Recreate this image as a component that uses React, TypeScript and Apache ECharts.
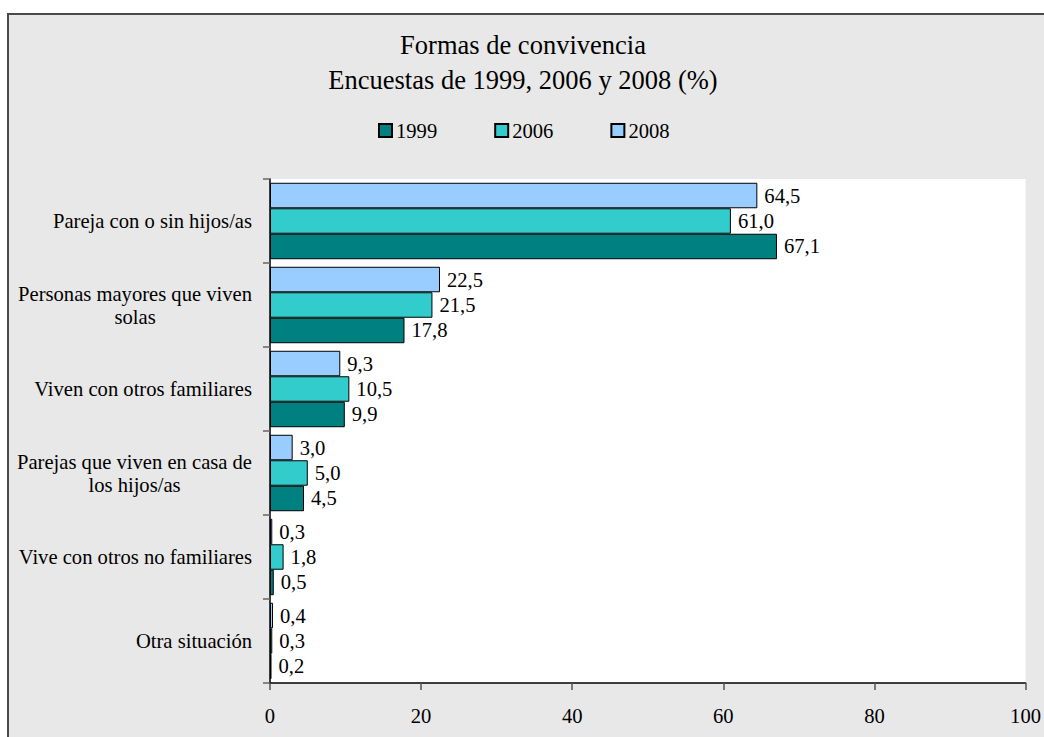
import React, { useEffect, useRef } from "react";
import * as echarts from "echarts";

const categories = [
  "Pareja con o sin hijos/as",
  "Personas mayores que viven\nsolas",
  "Viven con otros familiares",
  "Parejas que viven en casa de\nlos hijos/as",
  "Vive con otros no familiares",
  "Otra situación",
];
const years = ["1999", "2006", "2008"];
const values1999 = [67.1, 17.8, 9.9, 4.5, 0.5, 0.2];
const values2006 = [61.0, 21.5, 10.5, 5.0, 1.8, 0.3];
const values2008 = [64.5, 22.5, 9.3, 3.0, 0.3, 0.4];
const xTicks = { min: 0, max: 100, interval: 20 };
const colors: Record<string, string> = { "1999": "#008080", "2006": "#33CCCC", "2008": "#99CCFF" };

const FONT = "Liberation Serif";
const FS = 20.6;

export default function App() {
  const ref = useRef<HTMLDivElement>(null);
  useEffect(() => {
    if (!ref.current) return;
    const chart = echarts.init(ref.current, undefined, { renderer: "svg" });
    const dataByYear: Record<string, number[]> = {
      "1999": values1999,
      "2006": values2006,
      "2008": values2008,
    };
    const order = ["2008", "2006", "1999"];
    const txt = { fontFamily: FONT, fontWeight: "normal", fontStyle: "normal", color: "#000" };
    chart.setOption({
      animation: false,
      textStyle: { ...txt },
      title: {
        text: "Formas de convivencia\nEncuestas de 1999, 2006 y 2008 (%)",
        left: 523,
        textAlign: "center",
        top: 27,
        padding: 0,
        textStyle: { ...txt, fontSize: 26.5, lineHeight: 35 },
      },
      legend: {
        data: years,
        left: 378,
        top: 120,
        padding: 0,
        itemWidth: 13,
        itemHeight: 13,
        itemGap: 57,
        icon: "rect",
        textStyle: { ...txt, fontSize: FS, padding: [0, 0, 0, -1] },
      },
      grid: {
        left: 270,
        right: 18,
        top: 179,
        bottom: 54,
        show: true,
        backgroundColor: "#ffffff",
        borderWidth: 0,
      },
      xAxis: {
        type: "value",
        min: xTicks.min,
        max: xTicks.max,
        interval: xTicks.interval,
        splitLine: { show: false },
        axisLine: { show: true, lineStyle: { color: "#000", width: 1.5 } },
        axisTick: { show: true, length: 7, lineStyle: { color: "#555", width: 1.5 } },
        axisLabel: { ...txt, fontSize: FS, margin: 22 },
      },
      yAxis: {
        type: "category",
        data: categories,
        inverse: true,
        axisLine: { show: true, lineStyle: { color: "#000", width: 1.5 } },
        axisTick: { show: true, length: 7, alignWithLabel: false, lineStyle: { color: "#666", width: 1.5 } },
        axisLabel: {
          ...txt,
          fontSize: FS,
          margin: 18,
          formatter: (v: string) =>
            v
              .split("\n")
              .map((l) => `{c|${l}}`)
              .join("\n"),
          rich: {
            c: { ...txt, fontSize: FS, lineHeight: 23, align: "center" },
          },
        },
      },
      series: order.map((y) => ({
        name: y,
        type: "bar",
        data: dataByYear[y],
        barGap: "0%",
        barCategoryGap: "9%",
        itemStyle: { color: colors[y], borderColor: "#000", borderWidth: 1 },
        label: {
          show: true,
          position: "right",
          distance: 7,
          ...txt,
          fontSize: FS,
          formatter: (p: any) => Number(p.value).toFixed(1).replace(".", ","),
        },
      })),
    });
    return () => chart.dispose();
  }, []);
  return (
    <div
      style={{
        position: "fixed",
        left: 0,
        top: 0,
        width: 1044,
        height: 737,
        background: "#ffffff",
        overflow: "hidden",
      }}
    >
      <div
        style={{
          position: "absolute",
          left: 7,
          top: 13,
          width: 1100,
          height: 800,
          background: "#e8e8e8",
          border: "2px solid #4a4a4a",
        }}
      />
      <div ref={ref} style={{ position: "absolute", left: 0, top: 0, width: 1044, height: 737 }} />
    </div>
  );
}
